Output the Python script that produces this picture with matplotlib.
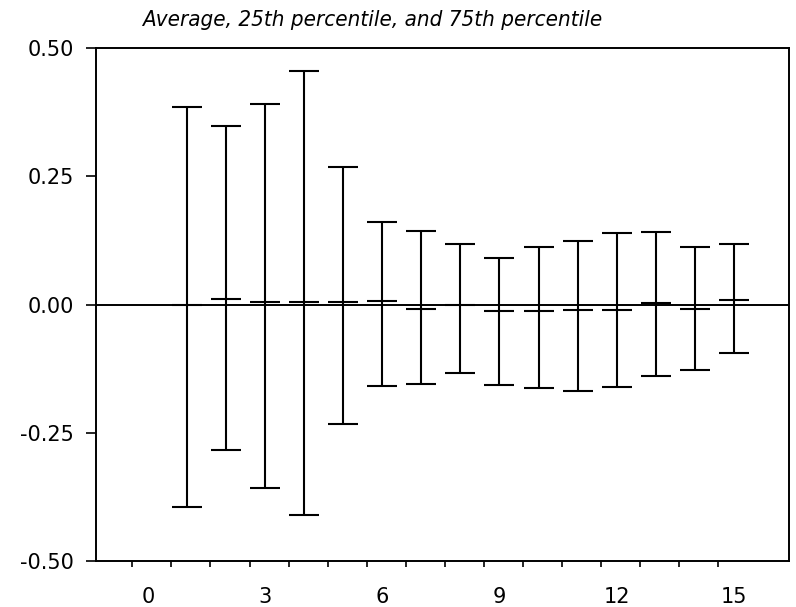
import numpy as np
import matplotlib
matplotlib.use("Agg")
import matplotlib.pyplot as plt

# ---- data ----
steps = [1, 2, 3, 4, 5, 6, 7, 8, 9, 10, 11, 12, 13, 14, 15]
p75 = [0.385, 0.347, 0.390, 0.456, 0.268, 0.160, 0.143, 0.118, 0.090,
       0.112, 0.123, 0.140, 0.141, 0.113, 0.118]
p25 = [-0.395, -0.283, -0.358, -0.410, -0.232, -0.158, -0.155, -0.133, -0.157,
       -0.163, -0.168, -0.160, -0.140, -0.128, -0.095]
avg = [0.000, 0.010, 0.004, 0.004, 0.005, 0.007, -0.009, 0.000, -0.013,
       -0.013, -0.010, -0.010, 0.002, -0.009, 0.008]
xtick_vals = [0, 3, 6, 9, 12, 15]
ytick_vals = [-0.50, -0.25, 0.00, 0.25, 0.50]
title = "Average, 25th percentile, and 75th percentile"

plt.rcParams['axes.unicode_minus'] = False

fig = plt.figure(figsize=(7.96, 6.07), dpi=100)
ax = fig.add_axes([0.1206, 0.0758, 0.8700, 0.8451])

x = np.array(steps, dtype=float)
a = np.array(avg)
lo = a - np.array(p25)
hi = np.array(p75) - a

ax.errorbar(x, a, yerr=[lo, hi], fmt='_', color='black', ecolor='black',
            elinewidth=1.5, capsize=10.8, capthick=1.5,
            markersize=21.6, markeredgewidth=1.5, zorder=3)
ax.axhline(0.0, color='black', linewidth=1.4, zorder=2)

ax.set_xlim(-1.33, 16.40)
ax.set_ylim(-0.5, 0.5)

ax.set_xticks(xtick_vals)
ax.set_xticklabels([str(v) for v in xtick_vals], fontsize=15)
ax.set_xticks(np.arange(-0.4, 15.0, 1.0), minor=True)
ax.tick_params(axis='x', which='major', length=0, pad=19)
ax.tick_params(axis='x', which='minor', length=4.5, width=1.2, direction='out')

ax.set_yticks(ytick_vals)
ax.set_yticklabels([f"{v:.2f}" for v in ytick_vals], fontsize=15)
ax.tick_params(axis='y', which='major', length=7, width=1.2, pad=9, direction='out')

for s in ax.spines.values():
    s.set_linewidth(1.4)

fig.text(0.178, 0.957, title, ha='left', va='baseline', fontsize=16,
         style='italic', fontstretch='condensed', family=['DejaVu Sans'])

fig.savefig('out.png', dpi=100)
